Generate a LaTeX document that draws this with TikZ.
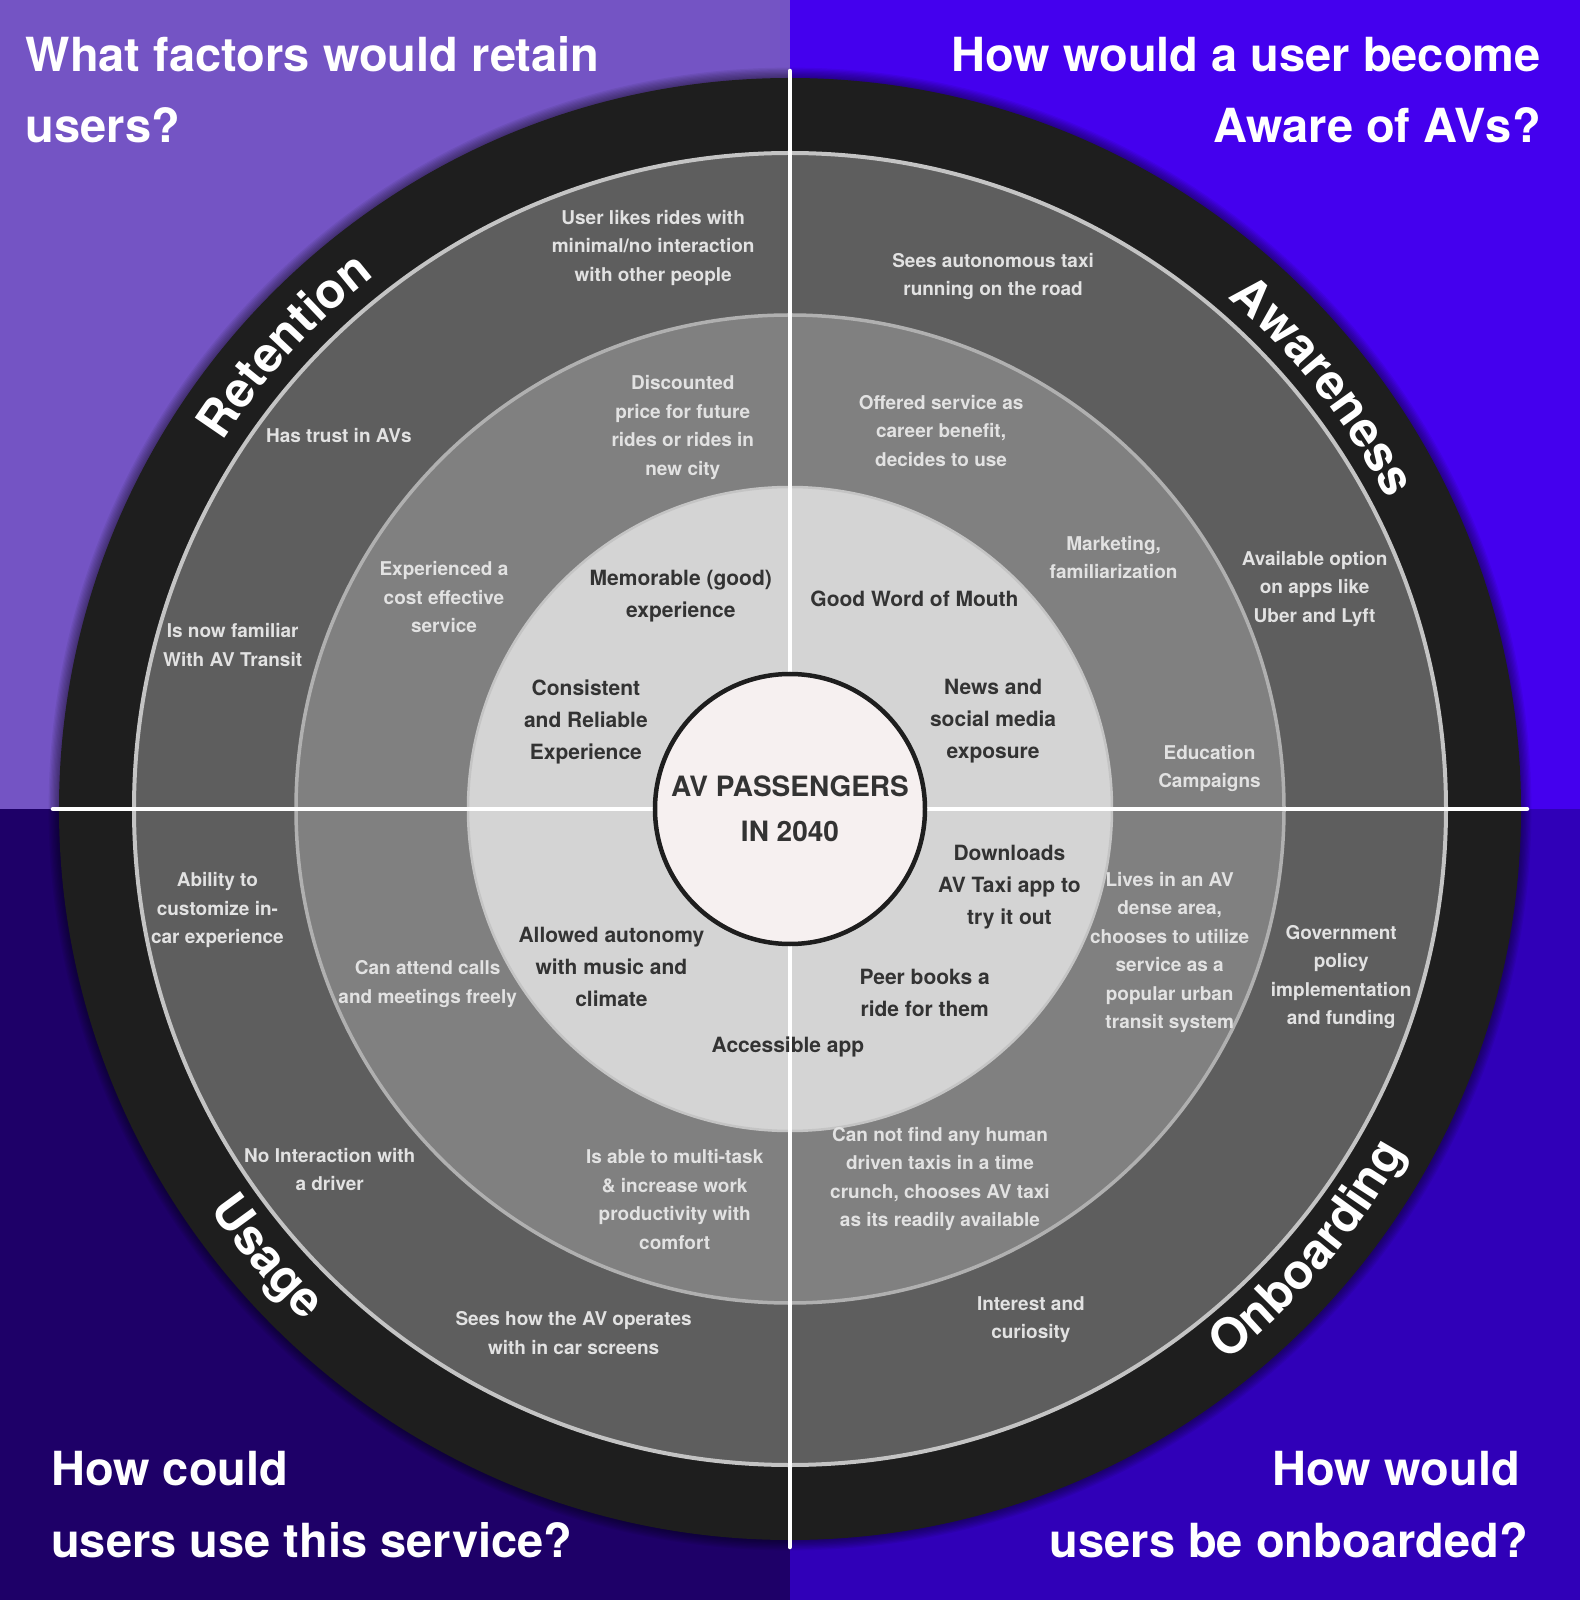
\documentclass[tikz,border=0pt]{standalone}
\usepackage{fontspec}
\setmainfont{TeX Gyre Heros}
\usetikzlibrary{decorations.text}
\definecolor{retainpurple}{RGB}{116, 84, 196}
\definecolor{awareblue}{RGB}{68, 0, 238}
\definecolor{usagenavy}{RGB}{30, 0, 104}
\definecolor{onboardblue}{RGB}{48, 0, 184}
\definecolor{ringblack}{RGB}{30, 30, 30}
\definecolor{outerring}{RGB}{94, 94, 94}
\definecolor{middlering}{RGB}{128, 128, 128}
\definecolor{innerring}{RGB}{212, 212, 212}
\definecolor{hubfill}{RGB}{246, 240, 240}
\definecolor{ringedge}{RGB}{196, 196, 196}
\definecolor{lighttext}{RGB}{226, 226, 226}
\definecolor{darktext}{RGB}{51, 51, 51}

\begin{document}
\begin{tikzpicture}[x=1pt, y=1pt,
    outertext/.style={align=center, inner sep=0pt, text=lighttext, font=\fontsize{19}{28.5}\selectfont\bfseries},
    innertext/.style={align=center, inner sep=0pt, text=darktext, font=\fontsize{21}{32}\selectfont\bfseries},
    question/.style={inner sep=0pt, text=white, font=\fontsize{47}{71}\selectfont\bfseries},
    crossline/.style={white, line width=4.5pt, line cap=round},
    hub/.style={circle, minimum size=270pt, inner sep=0pt, fill=hubfill, draw=ringblack, line width=4.5pt, align=center, text=darktext, font=\fontsize{28}{45.5}\selectfont\bfseries},
    arclabel/.style={decorate, decoration={text along path, text color=white, text align=center, text={|\fontsize{49}{60}\selectfont\bfseries|#1}}}]
    \useasboundingbox (-790,-791) rectangle (790,809);

    % Quadrant backgrounds
    \fill[retainpurple] (-790,0) rectangle (0,809);
    \fill[awareblue] (0,0) rectangle (790,809);
    \fill[usagenavy] (-790,-791) rectangle (0,0);
    \fill[onboardblue] (0,-791) rectangle (790,0);

    % Rings, outside in
    \foreach \g in {1,...,8}
        \fill[black, opacity=0.06] (0,0) circle[radius=731pt+1.3pt*\g];
    \fill[ringblack] (0,0) circle[radius=731pt];
    \path[fill=outerring, draw=ringedge, line width=4pt] (0,0) circle[radius=656pt];
    \path[fill=middlering, draw=ringedge!90!black, line width=3.5pt] (0,0) circle[radius=494pt];
    \path[fill=innerring, draw=ringedge, line width=2.5pt] (0,0) circle[radius=322pt];

    % Cross
    \coordinate (north) at (0,738);
    \coordinate (south) at (0,-738);
    \coordinate (west) at (-737,0);
    \coordinate (east) at (737,0);
    \draw[crossline] (north) -- (south);
    \draw[crossline] (west) -- (east);

    % Center
    \node[hub] (hub) at (0,0) {AV PASSENGERS\\IN 2040};

    % Stage names on the black ring
    \path[arclabel=Retention] (157.5:676pt) arc[start angle=157.5, end angle=117.5, radius=676pt];
    \path[arclabel=Awareness] (58.4:673pt) arc[start angle=58.4, end angle=18.4, radius=673pt];
    \path[arclabel=Usage] (200.6:705pt) arc[start angle=200.6, end angle=240.6, radius=705pt];
    \path[arclabel=Onboarding] (299.6:704pt) arc[start angle=299.6, end angle=339.6, radius=704pt];

    % Questions
    \node[question, anchor=base west] (retainq1) at (-764.5,737) {What factors would retain};
    \node[question, anchor=base west] (retainq2) at (-764.5,666) {users?};
    \node[question, anchor=base east] (awareq1) at (751,737) {How would a user become};
    \node[question, anchor=base east] (awareq2) at (751,666) {Aware of AVs?};
    \node[question, anchor=base west] (usageq1) at (-739,-676) {How could};
    \node[question, anchor=base west] (usageq2) at (-739,-748) {users use this service?};
    \node[question, anchor=base east] (onboardq1) at (730,-676) {How would};
    \node[question, anchor=base east] (onboardq2) at (738,-748) {users be onboarded?};

    % Outer ring
    \node[outertext] (fewpeople) at (-136.8,561) {User likes rides with\\minimal/no interaction\\with other people};
    \node[outertext] (seestaxi) at (203.1,532.4) {Sees autonomous taxi\\running on the road};
    \node[outertext] (trust) at (-451.1,373.2) {Has trust in AVs};
    \node[outertext] (familiar) at (-557.3,163.9) {Is now familiar\\With AV Transit};
    \node[outertext] (appoption) at (524.6,220.1) {Available option\\on apps like\\Uber and Lyft};
    \node[outertext] (customize) at (-572.6,-101.4) {Ability to\\customize in-\\car experience};
    \node[outertext] (policy) at (551.2,-167.8) {Government\\policy\\implementation\\and funding};
    \node[outertext] (nodriver) at (-460.3,-360.7) {No Interaction with\\a driver};
    \node[outertext] (screens) at (-216.4,-524) {Sees how the AV operates\\with in car screens};
    \node[outertext] (curiosity) at (240.9,-510.7) {Interest and\\curiosity};

    % Middle ring
    \node[outertext] (discount) at (-107.2,381.3) {Discounted\\price for future\\rides or rides in\\new city};
    \node[outertext] (careerperk) at (151.1,378.3) {Offered service as\\career benefit,\\decides to use};
    \node[outertext] (costeffective) at (-346,211.9) {Experienced a\\cost effective\\service};
    \node[outertext] (marketing) at (323.6,251.7) {Marketing,\\familiarization};
    \node[outertext] (education) at (419.5,40.4) {Education\\Campaigns};
    \node[outertext] (calls) at (-362.3,-174.9) {Can attend calls\\and meetings freely};
    \node[outertext] (densearea) at (379.7,-143.3) {Lives in an AV\\dense area,\\chooses to utilize\\service as a\\popular urban\\transit system};
    \node[outertext] (multitask) at (-115.3,-390.3) {Is able to multi-task\\\& increase work\\productivity with\\comfort};
    \node[outertext] (timecrunch) at (150,-369.9) {Can not find any human\\driven taxis in a time\\crunch, chooses AV taxi\\as its readily available};

    % Inner ring
    \node[innertext] (memorable) at (-109.2,212.9) {Memorable (good)\\experience};
    \node[innertext] (wordofmouth) at (124.5,209.9) {Good Word of Mouth};
    \node[innertext] (reliable) at (-204.1,87.4) {Consistent\\and Reliable\\Experience};
    \node[innertext] (newsmedia) at (203.1,87.4) {News and\\social media\\exposure};
    \node[innertext] (downloads) at (219.4,-78) {Downloads\\AV Taxi app to\\try it out};
    \node[innertext] (autonomy) at (-178.6,-157.6) {Allowed autonomy\\with music and\\climate};
    \node[innertext] (peerbooks) at (134.7,-184.1) {Peer books a\\ride for them};
    \node[innertext] (accessapp) at (-2,-238.2) {Accessible app};
\end{tikzpicture}
\end{document}
